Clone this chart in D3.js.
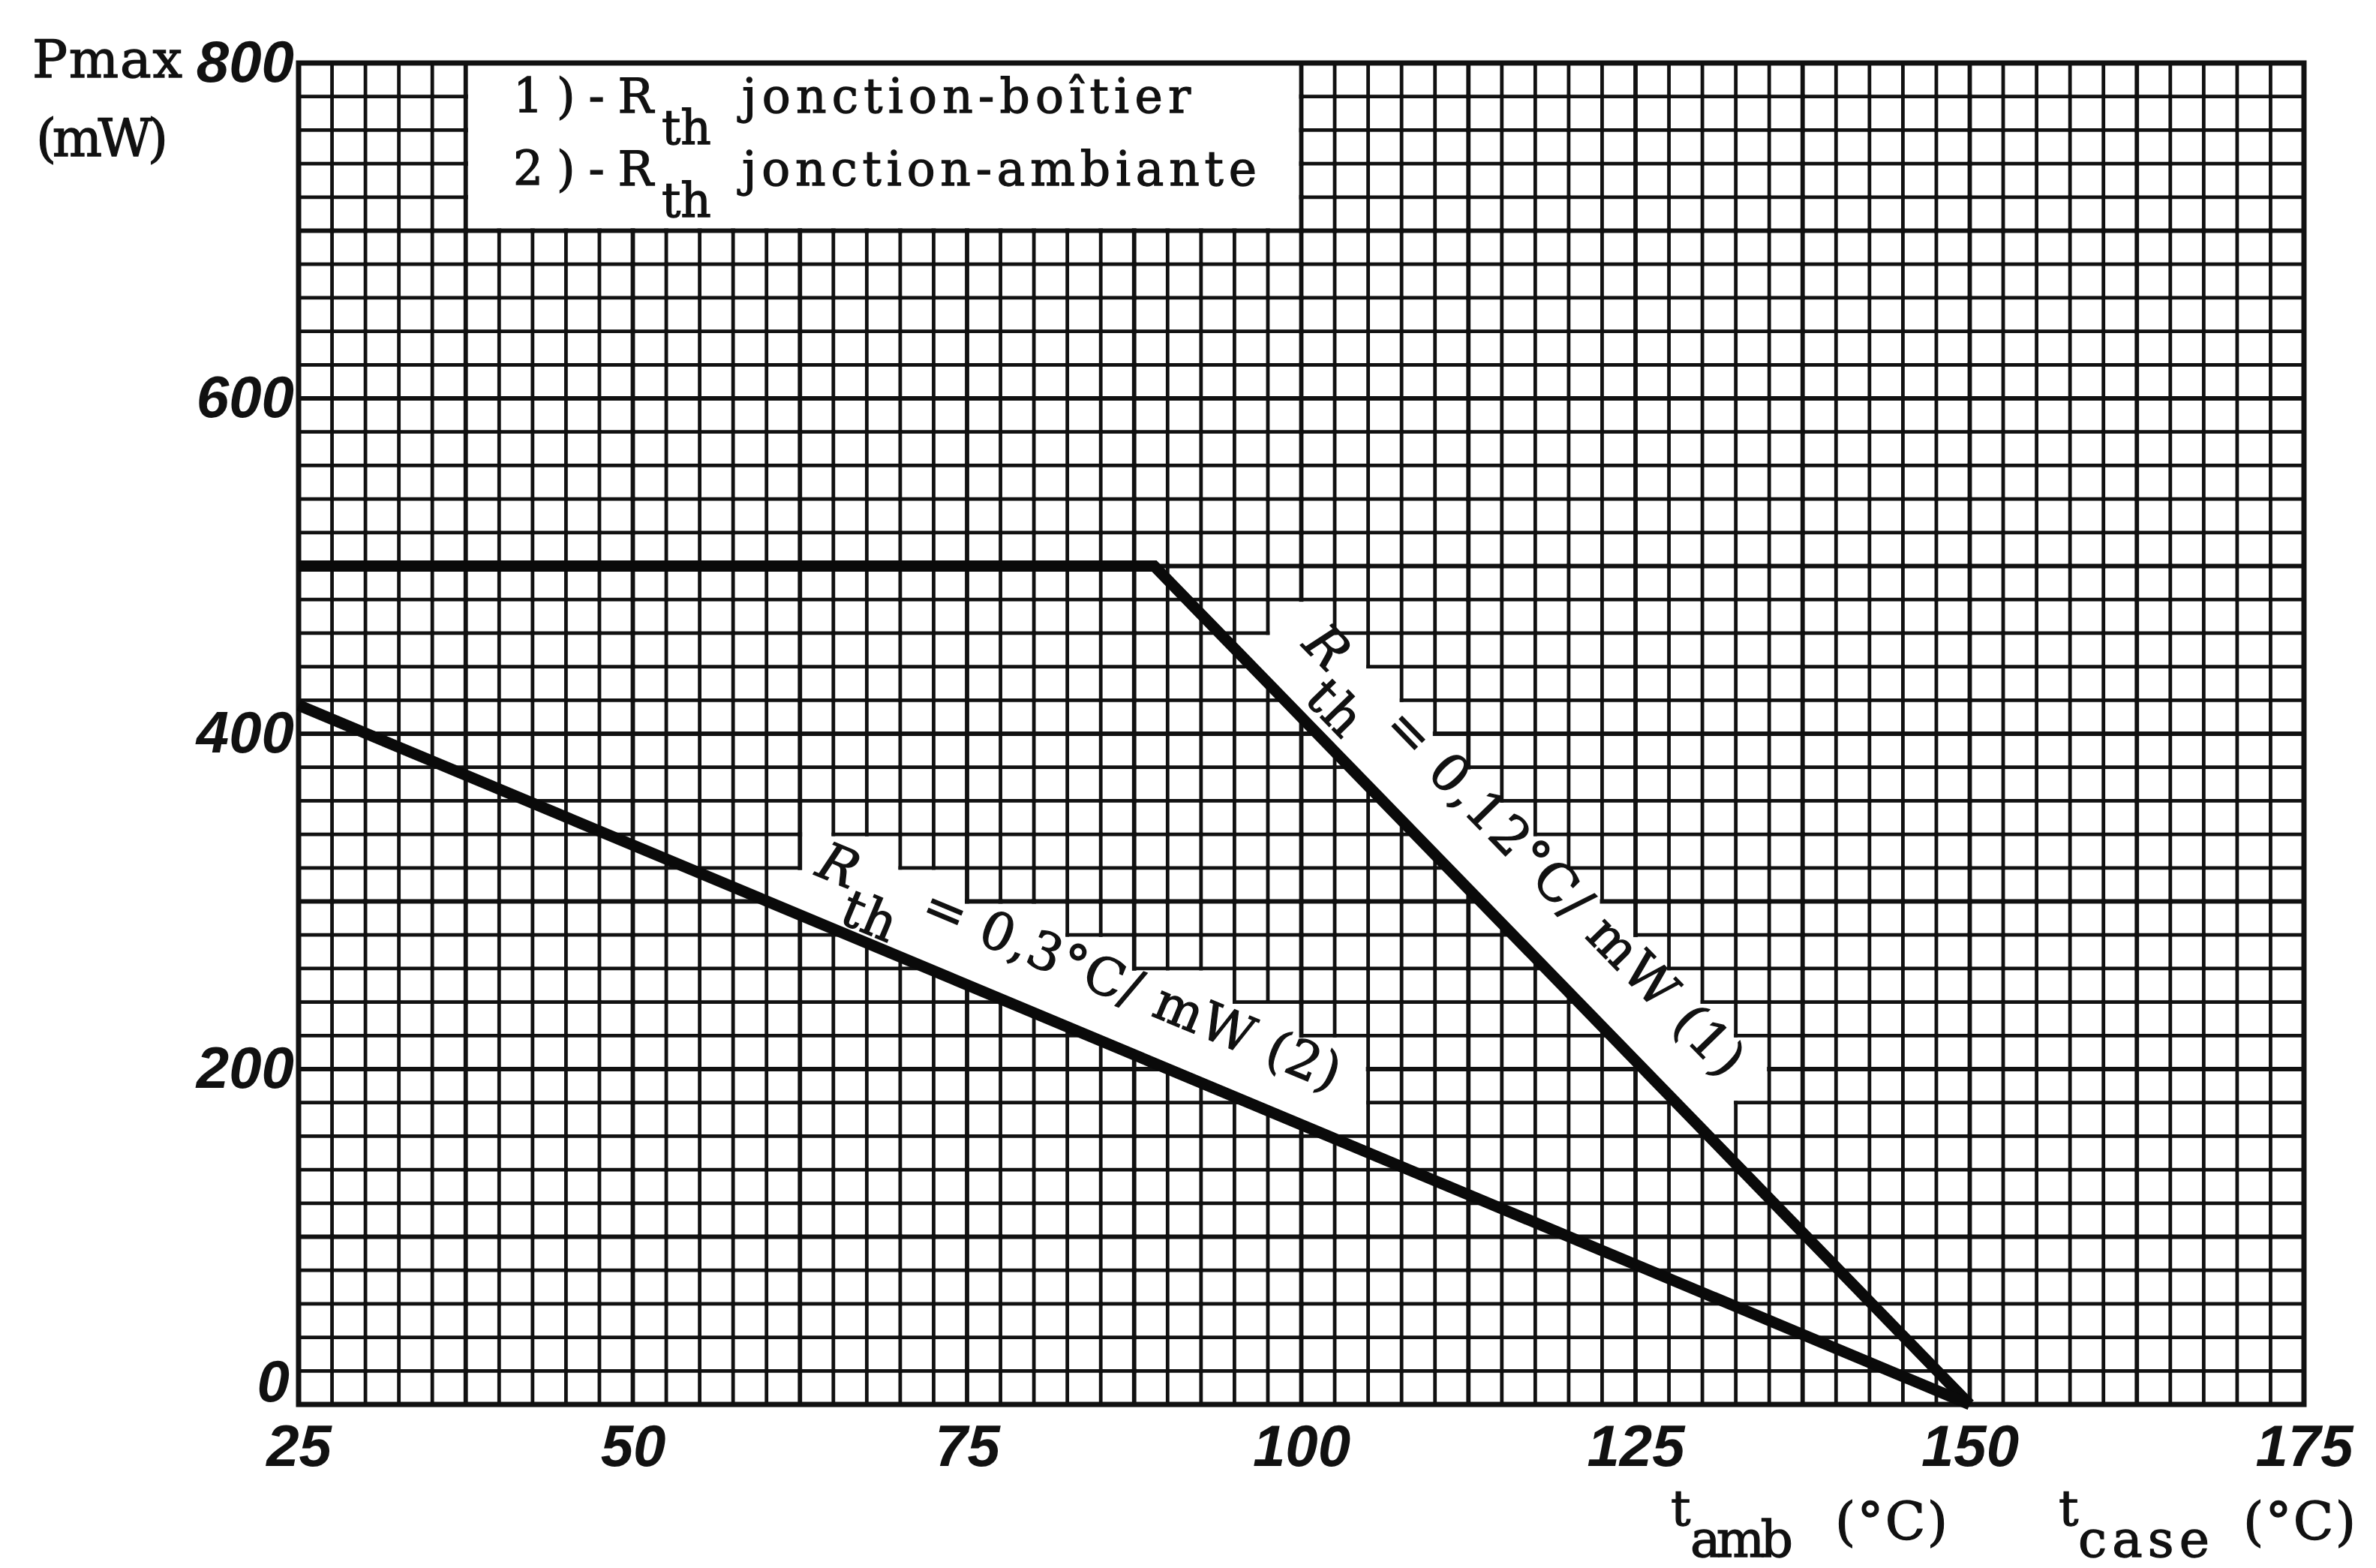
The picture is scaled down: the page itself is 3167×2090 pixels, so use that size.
<!DOCTYPE html>
<html>
<head>
<meta charset="utf-8">
<script src="https://cdn.jsdelivr.net/npm/d3@7"></script>
<style>
  body { margin: 0; background: #fff; }
  .tick text { font-family: "Liberation Sans", Arial, sans-serif; font-weight: bold; font-style: italic; font-size: 78px; fill: #111; }
  .lettering { font-family: "DejaVu Serif", serif; fill: #111; stroke: #111; stroke-width: 1.3px; }
</style>
</head>
<body>
<div id="chart"></div>
<script>
var svgWidth = 3167;
var svgHeight = 2090;

var margin = {
    top: 84,
    right: 96,
    bottom: 218,
    left: 398
};

var width = svgWidth - margin.left - margin.right;
var height = svgHeight - margin.top - margin.bottom;

// chart values
var xTicks = [25, 50, 75, 100, 125, 150, 175];
var yTicks = [0, 200, 400, 600, 800];
var xStep = 2.5;   // one grid cell in degC
var yStep = 20;    // one grid cell in mW

// curve (1) Rth jonction-boitier, curve (2) Rth jonction-ambiante
var boitierTemp = [25, 89, 150];
var boitierPower = [500, 500, 0];
var ambianteTemp = [25, 150];
var ambiantePower = [417, 0];

var legendNums = ['1)-R', '2)-R'];
var legendTexts = ['jonction-boîtier', 'jonction-ambiante'];
var labelTexts = [' = 0,12°C/ mW (1)', ' = 0,3°C/ mW (2)'];
var labelStartTemp = [97.3, 62.3];

var svg = d3.select('#chart')
    .append('svg')
    .attr('width', svgWidth)
    .attr('height', svgHeight);

var chartGroup = svg.append('g')
    .attr('transform', `translate(${margin.left}, ${margin.top})`);

var xScale = d3.scaleLinear().domain([25, 175]).range([0, width]);
var yScale = d3.scaleLinear().domain([0, 800]).range([height, 0]);

var nCols = Math.round((175 - 25) / xStep);
var nRows = Math.round(800 / yStep);

// layers
var gridGroup = chartGroup.append('g');
var curveGroup = chartGroup.append('g');
var labelGroup = chartGroup.append('g');

// cells with no grid: legend box
var blank = [];
for (var i = 0; i < nCols; i++) blank.push(new Array(nRows).fill(null));
for (var i = 5; i < 30; i++) {
    for (var j = 35; j < 40; j++) blank[i][j] = 'legend';
}

var cx = i => xScale(25 + i * xStep);
var cy = j => yScale(j * yStep);

// labels along the lines, each one clears a strip of cells
var bands = [];
function placeLabel(k, from, to, offset, drop, h, padL, padR, target) {
    var p0 = [xScale(from[0]), yScale(from[1])];
    var p1 = [xScale(to[0]), yScale(to[1])];
    var dx = p1[0] - p0[0], dy = p1[1] - p0[1];
    var L = Math.hypot(dx, dy);
    var u = [dx / L, dy / L];
    var n = [u[1], -u[0]];
    var s0 = (xScale(labelStartTemp[k]) - p0[0]) / u[0];
    var ang = Math.atan2(dy, dx) * 180 / Math.PI;
    var ox = p0[0] + s0 * u[0] + offset * n[0];
    var oy = p0[1] + s0 * u[1] + offset * n[1];

    var t = labelGroup.append('text')
        .classed('lettering', true)
        .attr('transform', `translate(${ox}, ${oy}) rotate(${ang})`)
        .style('font-size', '69px');
    t.append('tspan').style('font-style', 'italic').text('R');
    t.append('tspan').attr('dy', drop).text('th');
    t.append('tspan').attr('dy', -drop).text(labelTexts[k]);
    var natural = t.node().getComputedTextLength();
    var nChars = 3 + labelTexts[k].length;
    t.style('letter-spacing', ((target - natural) / nChars) + 'px');
    var len = target;

    bands.push({p0: p0, u: u, n: n, id: 'band' + k});

    for (var i = 0; i < nCols; i++) {
        for (var j = 0; j < nRows; j++) {
            if (blank[i][j]) continue;
            var xs = [cx(i), cx(i + 1)], ys = [cy(j), cy(j + 1)];
            var mx = (xs[0] + xs[1]) / 2, my = (ys[0] + ys[1]) / 2;
            var along = (mx - p0[0]) * u[0] + (my - p0[1]) * u[1];
            var norm = (mx - p0[0]) * n[0] + (my - p0[1]) * n[1];
            var maxN = -1e9;
            xs.forEach(xx => ys.forEach(yy => {
                maxN = Math.max(maxN, (xx - p0[0]) * n[0] + (yy - p0[1]) * n[1]);
            }));
            if (along >= s0 - padL && along <= s0 + len + padR && norm < h && maxN > 0) {
                blank[i][j] = k;
            }
        }
    }
}

placeLabel(0, [boitierTemp[1], boitierPower[1]], [boitierTemp[2], boitierPower[2]], 66, 48, 126, 45, 40, 810);
placeLabel(1, [ambianteTemp[0], ambiantePower[0]], [ambianteTemp[1], ambiantePower[1]], 57, 46, 130, 35, 45, 750);

// clip paths: below each labelled line the grid stays
var defs = svg.append('defs');
bands.forEach(function(b) {
    var B = 6000;
    var A = [b.p0[0] - B * b.u[0], b.p0[1] - B * b.u[1]];
    var C = [b.p0[0] + B * b.u[0], b.p0[1] + B * b.u[1]];
    var pts = [A, C,
        [C[0] - B * b.n[0], C[1] - B * b.n[1]],
        [A[0] - B * b.n[0], A[1] - B * b.n[1]]];
    defs.append('clipPath').attr('id', b.id)
        .append('polygon').attr('points', pts.map(p => p.join(',')).join(' '));
});

function cellAt(i, j) {
    if (i < 0 || j < 0 || i >= nCols || j >= nRows) return undefined;
    return blank[i][j];
}

var segs = [];
// vertical edges
for (var k = 1; k < nCols; k++) {
    for (var j = 0; j < nRows; j++) {
        segs.push({x1: cx(k), y1: cy(j), x2: cx(k), y2: cy(j + 1),
            a: cellAt(k - 1, j), b: cellAt(k, j), major: k % 5 === 0});
    }
}
// horizontal edges
for (var m = 1; m < nRows; m++) {
    for (var i = 0; i < nCols; i++) {
        segs.push({x1: cx(i), y1: cy(m), x2: cx(i + 1), y2: cy(m),
            a: cellAt(i, m - 1), b: cellAt(i, m), major: m % 5 === 0});
    }
}

function drawSegs(g, data) {
    g.selectAll('line')
        .data(data)
        .enter()
        .append('line')
        .attr('x1', d => d.x1).attr('y1', d => d.y1)
        .attr('x2', d => d.x2).attr('y2', d => d.y2)
        .attr('stroke', '#111')
        .attr('stroke-linecap', 'square')
        .attr('stroke-width', d => d.major ? 5.8 : 4.8);
}

drawSegs(gridGroup.append('g'), segs.filter(s => !(s.a !== null && s.a === s.b)));
[0, 1].forEach(function(k) {
    drawSegs(gridGroup.append('g').attr('clip-path', `url(#band${k})`),
        segs.filter(s => s.a === k && s.b === k));
});

// frame
gridGroup.append('rect')
    .attr('x', 0).attr('y', 0)
    .attr('width', width).attr('height', height)
    .attr('fill', 'none')
    .attr('stroke', '#111')
    .attr('stroke-width', 7);

// curves
var line = d3.line().x(d => xScale(d[0])).y(d => yScale(d[1]));
curveGroup.append('path')
    .attr('d', line(d3.zip(boitierTemp, boitierPower)))
    .attr('fill', 'none')
    .attr('stroke', '#0a0a0a')
    .attr('stroke-width', 15)
    .attr('stroke-linejoin', 'miter');
curveGroup.append('path')
    .attr('d', line(d3.zip(ambianteTemp, ambiantePower)))
    .attr('fill', 'none')
    .attr('stroke', '#0a0a0a')
    .attr('stroke-width', 15);

// axes
var xAxis = chartGroup.append('g')
    .attr('transform', `translate(0, ${height})`)
    .call(d3.axisBottom(xScale).tickValues(xTicks).tickSize(0).tickPadding(27));
xAxis.select('.domain').remove();

var yAxis = chartGroup.append('g')
    .call(d3.axisLeft(yScale).tickValues(yTicks).tickSize(0).tickPadding(6));
yAxis.select('.domain').remove();
// the 0 sits a bit higher so it clears the 25
yAxis.selectAll('.tick text').filter(d => d === 0).attr('dy', '-0.06em').attr('x', -12);

// legend in the cleared box
var legend = svg.append('g').classed('lettering', true).style('font-size', '63px');
legendNums.forEach(function(num, k) {
    var base = 150 + k * 97;
    legend.append('text').attr('x', 684).attr('y', base)
        .attr('textLength', 187).attr('lengthAdjust', 'spacing').text(num);
    legend.append('text').attr('x', 882).attr('y', base + 42).text('th');
    legend.append('text').attr('x', 989).attr('y', base)
        .attr('textLength', k === 0 ? 598 : 686).attr('lengthAdjust', 'spacing')
        .text(legendTexts[k]);
});

// axis titles
var titles = svg.append('g').classed('lettering', true);
titles.append('text').attr('x', 43).attr('y', 103).style('font-size', '70px')
    .attr('textLength', 200).attr('lengthAdjust', 'spacing').text('Pmax');
titles.append('text').attr('x', 48).attr('y', 208).style('font-size', '70px')
    .attr('textLength', 176).attr('lengthAdjust', 'spacing').text('(mW)');

function xTitle(x0, sub, subLen, x1) {
    titles.append('text').attr('x', x0).attr('y', 2033).style('font-size', '66px').text('t');
    titles.append('text').attr('x', x0 + 26).attr('y', 2075).style('font-size', '68px')
        .attr('textLength', subLen).attr('lengthAdjust', 'spacing').text(sub);
    titles.append('text').attr('x', x1).attr('y', 2052).style('font-size', '70px')
        .attr('textLength', 150).attr('lengthAdjust', 'spacing').text('(°C)');
}
xTitle(2227, 'amb', 137, 2446);
xTitle(2744, 'case', 175, 2990);
</script>
</body>
</html>
